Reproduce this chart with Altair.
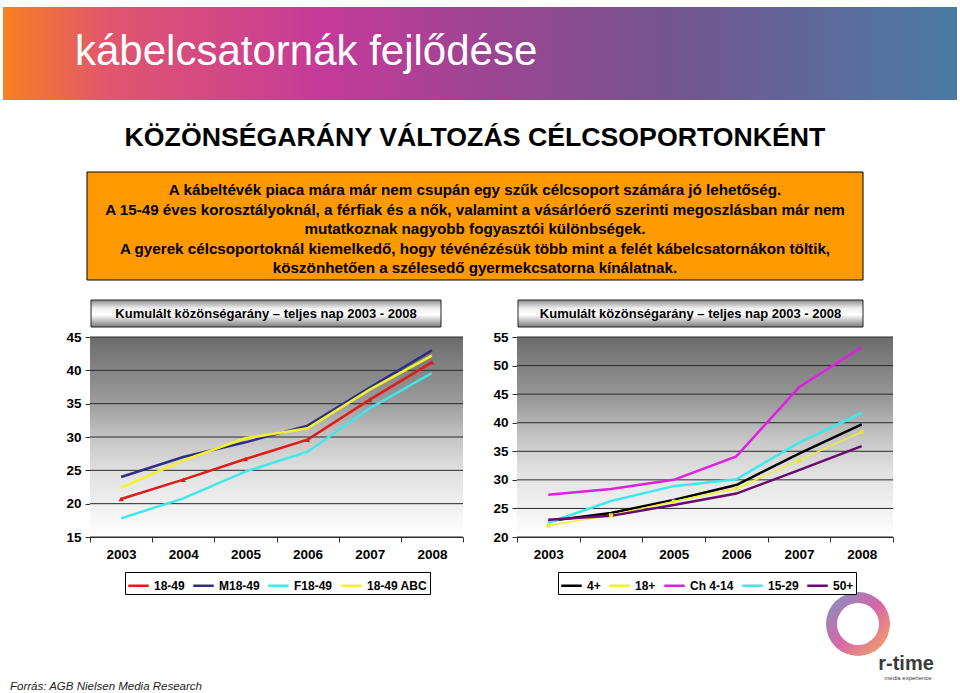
import altair as alt
import pandas as pd

# ---------------- data ----------------
years = ["2003", "2004", "2005", "2006", "2007", "2008"]

left_series = ["18-49", "M18-49", "F18-49", "18-49 ABC"]
left_colors = ["#e01b1b", "#2e2e86", "#3ee8ec", "#f2f22a"]
s_18_49 = [20.7, 23.6, 26.7, 29.6, 35.6, 41.2]
s_m18_49 = [24.0, 27.0, 29.2, 31.7, 37.4, 43.0]
s_f18_49 = [17.8, 20.8, 24.8, 27.8, 34.3, 39.6]
s_18_49_abc = [22.4, 26.5, 29.8, 31.3, 37.1, 42.2]
left_values = [s_18_49, s_m18_49, s_f18_49, s_18_49_abc]
left_ticks = [15, 20, 25, 30, 35, 40, 45]

right_series = ["4+", "18+", "Ch 4-14", "15-29", "50+"]
right_colors = ["#000000", "#f0f030", "#e020e0", "#3ee8ec", "#6a0a6e"]
s_4p = [22.8, 24.2, 26.5, 29.1, 34.6, 39.7]
s_18p = [22.0, 23.8, 26.2, 28.5, 33.4, 38.4]
s_ch4_14 = [27.4, 28.4, 30.0, 34.1, 46.2, 53.2]
s_15_29 = [22.5, 26.3, 28.9, 30.1, 36.5, 41.7]
s_50p = [23.0, 23.7, 25.6, 27.6, 31.7, 35.9]
right_values = [s_4p, s_18p, s_ch4_14, s_15_29, s_50p]
right_ticks = [20, 25, 30, 35, 40, 45, 50, 55]

header_title = "kábelcsatornák fejlődése"
main_title = "KÖZÖNSÉGARÁNY VÁLTOZÁS CÉLCSOPORTONKÉNT"
box_lines = [
    "A kábeltévék piaca mára már nem csupán egy szűk célcsoport számára jó lehetőség.",
    "A 15-49 éves korosztályoknál, a férfiak és a nők, valamint a vásárlóerő szerinti megoszlásban már nem",
    "mutatkoznak nagyobb fogyasztói különbségek.",
    "A gyerek célcsoportoknál kiemelkedő, hogy  tévénézésük több mint a felét kábelcsatornákon töltik,",
    "köszönhetően a szélesedő gyermekcsatorna kínálatnak.",
]
chart_title = "Kumulált közönségarány – teljes nap 2003 - 2008"
source_text = "Forrás: AGB Nielsen Media Research"
logo_text = "r-time"
logo_sub = "media experience"


def long_df(series, values):
    rows = []
    for name, vals in zip(series, values):
        for y, v in zip(years, vals):
            rows.append({"year": y, "series": name, "value": v})
    return pd.DataFrame(rows)


left_df = long_df(left_series, left_values)
right_df = long_df(right_series, right_values)

FONT = "Liberation Sans"
one = alt.Data(values=[{}])

plot_grad = alt.LinearGradient(
    gradient="linear", x1=0, y1=0, x2=0, y2=1,
    stops=[alt.GradientStop(offset=0, color="#6c6c6c"),
           alt.GradientStop(offset=0.33, color="#9c9c9c"),
           alt.GradientStop(offset=0.5, color="#c4c4c4"),
           alt.GradientStop(offset=0.67, color="#e0e0e0"),
           alt.GradientStop(offset=1, color="#ffffff")])

title_grad = alt.LinearGradient(
    gradient="linear", x1=0, y1=0, x2=0, y2=1,
    stops=[alt.GradientStop(offset=0, color="#8c8c8c"),
           alt.GradientStop(offset=0.3, color="#eeeeee"),
           alt.GradientStop(offset=0.55, color="#ffffff"),
           alt.GradientStop(offset=1, color="#7c7c7c")])

header_grad = alt.LinearGradient(
    gradient="linear", x1=0, y1=0, x2=1, y2=0,
    stops=[alt.GradientStop(offset=0, color="#f7811f"),
           alt.GradientStop(offset=0.11, color="#e0566e"),
           alt.GradientStop(offset=0.34, color="#c43a9a"),
           alt.GradientStop(offset=0.51, color="#9c4592"),
           alt.GradientStop(offset=0.70, color="#745490"),
           alt.GradientStop(offset=1, color="#4a7ba6")])

logo_grad = alt.LinearGradient(
    gradient="linear", x1=0, y1=0, x2=1, y2=1,
    stops=[alt.GradientStop(offset=0, color="#5a8ab8"),
           alt.GradientStop(offset=0.5, color="#d04a9a"),
           alt.GradientStop(offset=1, color="#f5a040")])

W_L, W_R, H = 373, 376, 200
OX_L, OY = 90, 337          # page position of left plot origin
OX_R = 517                  # page position of right plot origin


def vx(px, ox):
    return alt.value(px - ox)


def vy(py):
    return alt.value(py - OY)


def x_enc():
    return alt.X("year:O", sort=years, bandPosition=0.5,
                 scale=alt.Scale(type="band", paddingInner=0, paddingOuter=0),
                 axis=alt.Axis(title=None, labelAngle=0, tickBand="extent",
                               tickSize=5, labelPadding=5, grid=False,
                               labelFont=FONT, labelFontSize=13.5, labelFontWeight="bold",
                               labelColor="black", domainColor="#333", tickColor="#333"))


def y_enc(field, domain, ticks):
    return alt.Y(field, scale=alt.Scale(domain=domain, nice=False, zero=False),
                 axis=alt.Axis(title=None, values=ticks, tickSize=5, labelPadding=4,
                               grid=False, labelFont=FONT, labelFontSize=13.5,
                               labelFontWeight="bold", labelColor="black",
                               domainColor="#333", tickColor="#333"))


def legend(x, series_n):
    return alt.Legend(orient="none", legendX=x, legendY=235, direction="horizontal",
                      columns=series_n, title=None, symbolType="stroke",
                      symbolStrokeWidth=2.5, symbolSize=420, labelFontSize=12,
                      labelFontWeight="bold", labelFont=FONT, labelColor="black",
                      strokeColor="black", fillColor="white", padding=2,
                      columnPadding=3, labelOffset=4)


def title_box(x0, x1, ox):
    box = alt.Chart(one).mark_rect(fill=title_grad, stroke="#222", strokeWidth=1).encode(
        x=vx(x0, ox), x2=vx(x1, ox), y=vy(300), y2=vy(327))
    txt = alt.Chart(one).mark_text(font=FONT, fontSize=13, fontWeight="bold",
                                   color="black", align="center", baseline="middle").encode(
        x=vx((x0 + x1) / 2, ox), y=vy(314), text=alt.value(chart_title))
    return [box, txt]


def plot_bg(w):
    return alt.Chart(one).mark_rect(fill=plot_grad).encode(
        x=alt.value(0), x2=alt.value(w), y=alt.value(0), y2=alt.value(H))


def grid(ticks, domain):
    return alt.Chart(pd.DataFrame({"tick": ticks})).mark_rule(
        color="#2a2a2a", strokeWidth=1).encode(y=y_enc("tick:Q", domain, ticks))


# ---------------- left chart ----------------
page_extent = alt.Chart(one).mark_rect(opacity=0).encode(
    x=vx(0, OX_L), x2=vx(960, OX_L), y=vy(0), y2=vy(693))
header = alt.Chart(one).mark_rect(fill=header_grad).encode(
    x=vx(3, OX_L), x2=vx(957, OX_L), y=vy(7), y2=vy(100))
header_txt = alt.Chart(one).mark_text(font=FONT, fontSize=42, color="white",
                                      align="left", baseline="alphabetic").encode(
    x=vx(75, OX_L), y=vy(65), text=alt.value(header_title))
main_txt = alt.Chart(one).mark_text(font=FONT, fontSize=26.7, fontWeight="bold",
                                    color="black", align="center", baseline="middle").encode(
    x=vx(475, OX_L), y=vy(138), text=alt.value(main_title))
orange = alt.Chart(one).mark_rect(fill="#ff9900", stroke="black", strokeWidth=1).encode(
    x=vx(87, OX_L), x2=vx(863, OX_L), y=vy(172), y2=vy(280))
orange_txt = alt.Chart(one).mark_text(font=FONT, fontSize=15.2, fontWeight="bold",
                                      color="black", align="center", baseline="middle",
                                      lineBreak="\n", lineHeight=19.5).encode(
    x=vx(475, OX_L), y=vy(190), text=alt.value("\n".join(box_lines)))
source = alt.Chart(one).mark_text(font=FONT, fontSize=11.5, fontStyle="italic",
                                  color="#222", align="left", baseline="middle").encode(
    x=vx(10, OX_L), y=vy(687), text=alt.value(source_text))

left_lines = alt.Chart(left_df).mark_line(strokeWidth=2.5).encode(
    x=x_enc(), y=y_enc("value:Q", [15, 45], left_ticks),
    color=alt.Color("series:N", scale=alt.Scale(domain=left_series, range=left_colors),
                    legend=legend(35, 4)),
    order=alt.Order("year:O"))
left_marks = alt.Chart(left_df).transform_filter(alt.datum.series == "18-49").mark_point(
    shape="triangle-up", filled=True, size=28, color="#e01b1b", opacity=1).encode(
    x=x_enc(), y=y_enc("value:Q", [15, 45], left_ticks))

left = alt.layer(page_extent, header, header_txt, main_txt, orange, orange_txt, source,
                 *title_box(91, 441, OX_L), plot_bg(W_L), grid(left_ticks, [15, 45]),
                 left_lines, left_marks).properties(width=W_L, height=H)

# ---------------- right chart ----------------
right_lines = alt.Chart(right_df).mark_line().encode(
    x=x_enc(), y=y_enc("value:Q", [20, 55], right_ticks),
    color=alt.Color("series:N", scale=alt.Scale(domain=right_series, range=right_colors),
                    legend=legend(41, 5)),
    strokeWidth=alt.condition(alt.datum.series == "18+", alt.value(1.5), alt.value(2.5)),
    order=alt.Order("year:O"))
right_marks = alt.Chart(right_df).transform_filter(alt.datum.series == "18+").mark_point(
    shape="square", filled=True, size=16, color="#e8e820", opacity=1).encode(
    x=x_enc(), y=y_enc("value:Q", [20, 55], right_ticks))

logo_ring = alt.Chart(one).mark_arc(innerRadius=21, outerRadius=32, fill=logo_grad,
                                    opacity=0.85).encode(
    x=vx(858, OX_R), y=vy(624), theta=alt.value(0), theta2=alt.value(6.2832))
logo_t = alt.Chart(one).mark_text(font=FONT, fontSize=20, fontWeight="bold", color="#3a3a3a",
                                  align="center", baseline="alphabetic").encode(
    x=vx(906, OX_R), y=vy(670), text=alt.value(logo_text))
logo_s = alt.Chart(one).mark_text(font=FONT, fontSize=6, color="#3a3a3a",
                                  align="center", baseline="top").encode(
    x=vx(908, OX_R), y=vy(675), text=alt.value(logo_sub))

right = alt.layer(*title_box(518, 863, OX_R), plot_bg(W_R), grid(right_ticks, [20, 55]),
                  right_lines, right_marks, logo_ring, logo_t, logo_s).properties(
    width=W_R, height=H)

chart = alt.hconcat(left, right, spacing=OX_R - OX_L - W_L, bounds="flush").resolve_scale(
    color="independent", x="independent", y="independent").properties(
    padding=0, autosize=alt.AutoSizeParams(type="pad")).configure(
    background="white").configure_view(stroke=None)

chart.save("out.html", embed_options={"renderer": "svg", "actions": False})
